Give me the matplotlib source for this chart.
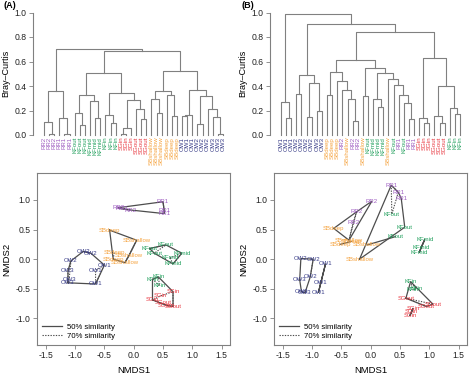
import matplotlib.pyplot as plt
from matplotlib.lines import Line2D

plt.rcParams['font.family'] = ['Liberation Sans', 'DejaVu Sans']
plt.rcParams['axes.unicode_minus'] = False

# ---- panel A: samples in dendrogram leaf order, with NMDS scores ----
a_labels = ['RR2', 'RR2', 'RR2', 'RR1', 'RR1', 'RR1',
            'KFout', 'KFout', 'KFout', 'KFmid', 'KFmid', 'KFmid',
            'KFin', 'KFin', 'KFin',
            'SGin', 'SGin', 'SGin', 'SGout', 'SGout', 'SGout',
            'SBshallow', 'SBshallow', 'SBshallow', 'SBdeep', 'SBdeep', 'SBdeep',
            'OW1', 'OW1', 'OW1', 'OW2', 'OW2', 'OW2', 'OW3', 'OW3', 'OW3']
a_x = [-0.26, -0.20, -0.05, 0.50, 0.52, 0.52,
       0.55, 0.27, 0.35, 0.82, 0.62, 0.67,
       0.32, 0.42, 0.44,
       0.32, 0.46, 0.67, 0.50, 0.56, 0.67,
       0.05, -0.08, -0.15, -0.41, -0.33, -0.35,
       -0.65, -0.50, -0.65, -0.86, -0.73, -1.07, -1.12, -1.10, -1.12]
a_y = [0.87, 0.85, 0.83, 0.97, 0.77, 0.82,
       0.24, 0.18, 0.10, 0.10, 0.02, -0.08,
       -0.34, -0.30, -0.45,
       -0.69, -0.62, -0.55, -0.74, -0.78, -0.80,
       0.32, 0.06, -0.06, 0.49, 0.12, 0.00,
       -0.19, -0.10, -0.42, 0.13, 0.10, -0.03, -0.20, -0.34, -0.40]
# merges: (left, right, Bray-Curtis height); new nodes numbered from 36
a_merges = [(1, 2, 0.005), (0, 36, 0.11), (4, 5, 0.005), (3, 38, 0.14), (37, 39, 0.36),
            (7, 8, 0.08), (6, 41, 0.18), (10, 11, 0.14), (9, 43, 0.28), (42, 44, 0.33),
            (13, 14, 0.10), (12, 46, 0.16), (15, 16, 0.005), (48, 17, 0.06),
            (19, 20, 0.13), (18, 50, 0.21), (49, 51, 0.285), (47, 52, 0.34),
            (45, 53, 0.505), (22, 23, 0.18), (21, 55, 0.29), (25, 26, 0.155),
            (24, 57, 0.33), (56, 58, 0.36), (27, 28, 0.155), (60, 29, 0.165),
            (30, 31, 0.09), (34, 35, 0.005), (33, 63, 0.145), (32, 64, 0.21),
            (62, 65, 0.32), (61, 66, 0.37), (59, 67, 0.52), (54, 68, 0.685),
            (40, 69, 0.70)]

# ---- panel B ----
b_labels = ['OW1', 'OW1', 'OW1', 'OW2', 'OW3', 'OW2', 'OW2', 'OW3', 'OW3',
            'SBdeep', 'SBdeep', 'SBdeep', 'RR2', 'SBshallow', 'RR2', 'RR2',
            'SBshallow', 'KFout', 'KFmid', 'KFmid', 'KFmid', 'SBshallow',
            'KFout', 'RR1', 'KFout', 'RR1', 'RR1',
            'SGin', 'SGin', 'SGin', 'SGout', 'SGout', 'SGout', 'KFin', 'KFin', 'KFin']
b_x = [-0.77, -0.85, -0.89, -1.19, -1.21, -0.98, -1.03, -1.12, -1.18,
       -0.52, -0.33, -0.63, 0.02, -0.37, -0.24, -0.30,
       -0.06, 0.42, 0.92, 0.86, 0.83, -0.19,
       0.58, 0.52, 0.36, 0.35, 0.47,
       0.72, 0.70, 0.67, 0.60, 0.95, 1.06, 0.68, 0.78, 0.72]
b_y = [-0.08, -0.40, -0.56, 0.01, -0.35, 0.00, -0.30, -0.57, -0.55,
       0.25, 0.30, 0.52, 0.98, 0.32, 0.80, 0.62,
       0.24, 0.38, 0.33, 0.20, 0.12, 0.00,
       0.54, 1.03, 0.76, 1.25, 1.13,
       -0.83, -0.89, -0.95, -0.66, -0.80, -0.76, -0.38, -0.50, -0.52]
b_merges = [(1, 2, 0.135), (0, 36, 0.27), (3, 4, 0.335), (5, 6, 0.145), (7, 8, 0.195),
            (39, 40, 0.425), (38, 41, 0.49), (9, 10, 0.33), (14, 15, 0.115),
            (13, 44, 0.29), (12, 45, 0.37), (11, 46, 0.44), (43, 47, 0.515),
            (16, 17, 0.32), (19, 20, 0.23), (18, 50, 0.29), (25, 26, 0.13),
            (24, 52, 0.265), (23, 53, 0.325), (22, 54, 0.41), (21, 55, 0.46),
            (51, 56, 0.505), (49, 57, 0.55), (48, 58, 0.615), (28, 29, 0.10),
            (27, 60, 0.135), (31, 32, 0.095), (30, 62, 0.155), (34, 35, 0.17),
            (33, 64, 0.22), (63, 65, 0.40), (61, 66, 0.625), (59, 67, 0.84),
            (42, 68, 0.91), (37, 69, 0.985)]

site_colours = {'RR': '#9d5cc0', 'KF': '#1e9e5a', 'SG': '#e8363f',
                'SB': '#f5a33f', 'OW': '#363a86'}
axis_grey = '#808080'
hull_grey = '#4d4d4d'

W, H = 474, 376
fig = plt.figure(figsize=(W / 100, H / 100), dpi=100)


def px_axes(x0, y0, x1, y1):
    return fig.add_axes([x0 / W, 1 - y1 / H, (x1 - x0) / W, (y1 - y0) / H])


def style_ticks(ax):
    ax.tick_params(length=3, width=0.6, color=axis_grey, labelsize=6.2,
                   labelcolor='#222222', pad=1.5)


def draw_dendro(ax, labels, merges):
    xs = list(range(len(labels)))
    hs = [0.0] * len(labels)
    for a, b, h in merges:
        ax.plot([xs[a], xs[a], xs[b], xs[b]], [hs[a], h, h, hs[b]],
                color=axis_grey, lw=0.8, clip_on=False)
        xs.append((xs[a] + xs[b]) / 2)
        hs.append(h)
    for i, lab in enumerate(labels):
        ax.text(i, -0.015, lab, rotation=90, ha='center', va='top',
                fontsize=4.4, color=site_colours[lab[:2]], clip_on=False)
    ax.set_xlim(-2.15, len(labels) + 0.75)
    ax.set_ylim(0, 1)
    for s in ['top', 'right', 'bottom']:
        ax.spines[s].set_visible(False)
    ax.spines['left'].set_color(axis_grey)
    ax.spines['left'].set_linewidth(0.8)
    ax.set_xticks([])
    ax.set_yticks([0, 0.2, 0.4, 0.6, 0.8, 1.0])
    ax.set_yticklabels(['0.0', '0.2', '0.4', '0.6', '0.8', '1.0'])
    style_ticks(ax)
    ax.set_ylabel('Bray–Curtis', fontsize=6.5, labelpad=3)
    ax.patch.set_visible(False)


def cut_tree(merges, n, h):
    members = [[i] for i in range(n)]
    heights = [0.0] * n
    kids = [None] * n
    for a, b, hh in merges:
        members.append(members[a] + members[b])
        heights.append(hh)
        kids.append((a, b))
    groups = []
    stack = [len(members) - 1]
    while stack:
        k = stack.pop()
        if heights[k] <= h:
            groups.append(members[k])
        else:
            stack.extend(kids[k])
    return groups


def convex_hull(pts):
    pts = sorted(set(pts))
    if len(pts) < 3:
        return pts

    def cross(o, p, q):
        return (p[0] - o[0]) * (q[1] - o[1]) - (p[1] - o[1]) * (q[0] - o[0])

    lower, upper = [], []
    for p in pts:
        while len(lower) >= 2 and cross(lower[-2], lower[-1], p) <= 0:
            lower.pop()
        lower.append(p)
    for p in reversed(pts):
        while len(upper) >= 2 and cross(upper[-2], upper[-1], p) <= 0:
            upper.pop()
        upper.append(p)
    return lower[:-1] + upper[:-1]


def draw_nmds(ax, labels, xs, ys, merges):
    n = len(labels)
    for cut, ls, lw in [(0.5, '-', 0.9), (0.3, (0, (1.2, 1.2)), 0.8)]:
        for g in cut_tree(merges, n, cut):
            if len(g) < 2:
                continue
            hull = convex_hull([(xs[i], ys[i]) for i in g])
            if len(hull) > 2:
                hull = hull + hull[:1]
            ax.plot([p[0] for p in hull], [p[1] for p in hull],
                    color=hull_grey, lw=lw, ls=ls)
    for lab, x, y in zip(labels, xs, ys):
        ax.text(x, y, lab, ha='center', va='center', fontsize=4.3,
                color=site_colours[lab[:2]])
    ax.set_xlim(-1.653, 1.641)
    ax.set_ylim(-1.451, 1.451)
    ax.set_xticks([-1.5, -1.0, -0.5, 0.0, 0.5, 1.0, 1.5])
    ax.set_yticks([-1.0, -0.5, 0.0, 0.5, 1.0])
    for s in ax.spines.values():
        s.set_color(axis_grey)
        s.set_linewidth(0.8)
    style_ticks(ax)
    ax.set_xlabel('NMDS1', fontsize=6.8, labelpad=4)
    ax.set_ylabel('NMDS2', fontsize=6.8, labelpad=3)
    handles = [Line2D([], [], color=hull_grey, lw=0.9, ls='-'),
               Line2D([], [], color=hull_grey, lw=0.8, ls=(0, (1.2, 1.2)))]
    ax.legend(handles, ['50% similarity', '70% similarity'], loc='lower left',
              frameon=False, fontsize=5.6, handlelength=2.6, handletextpad=0.6,
              labelspacing=0.15, borderaxespad=0.3)


for off, labels, xs, ys, merges, tag in [(0, a_labels, a_x, a_y, a_merges, '(A)'),
                                          (237, b_labels, b_x, b_y, b_merges, '(B)')]:
    dax = px_axes(off + 33, 12.5, off + 232, 135)
    draw_dendro(dax, labels, merges)
    nax = px_axes(off + 36.7, 173.3, off + 230, 345)
    draw_nmds(nax, labels, xs, ys, merges)
    fig.text((off + 4) / W, 1 - 1 / H, tag, fontsize=6.5, fontweight='bold',
             ha='left', va='top')

fig.savefig('out.png', dpi=100)
